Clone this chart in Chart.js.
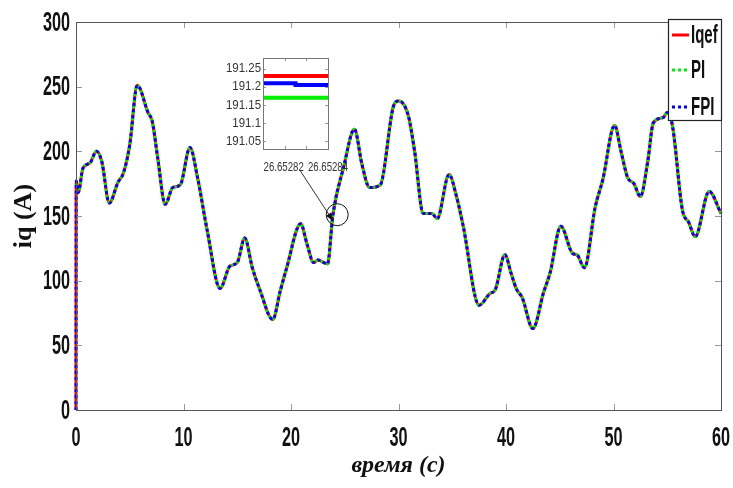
<!DOCTYPE html>
<html>
<head>
<meta charset="utf-8">
<script src="https://cdn.jsdelivr.net/npm/chart.js@4.4.1/dist/chart.umd.min.js"></script>
<style>
  body { margin: 0; background: #fff; }
  #wrap { position: relative; width: 733px; height: 488px; }
  #main { position: absolute; left: 0; top: 0; }
  #inset { position: absolute; left: 200px; top: 45px; }
</style>
</head>
<body>
<div id="wrap">
  <canvas id="main" width="733" height="488"></canvas>
  <canvas id="inset" width="160" height="140"></canvas>
</div>
<script>
// valores
const time = [0, 0.02, 0.2, 0.65, 1.3, 1.9, 2.4, 3.1, 3.9, 4.4, 5.0, 5.7, 6.7, 7.1, 7.6, 8.3, 9.0, 9.7,
  10.6, 11.3, 12.2, 13.4, 14.3, 15.0, 15.7, 16.4, 17.1, 18.3, 19.0, 19.6, 20.9, 21.5, 22.1, 22.5,
  23.4, 23.9, 24.9, 25.9, 26.6, 27.3, 28.3, 29.5, 30.0, 30.9, 31.5, 32.3, 33.1, 33.6, 34.7, 35.4,
  36.0, 37.5, 38.5, 39.0, 39.9, 40.5, 41.0, 41.5, 42.5, 43.5, 44.1, 45.1, 46.2, 46.6, 47.3, 48.3,
  49.0, 50.1, 50.7, 51.3, 51.9, 52.5, 53.2, 53.7, 54.6, 55.0, 55.5, 56.4, 57.0, 57.6, 58.9, 60];
const iqef = [0, 177, 168, 187, 191, 200, 192, 160, 176, 183, 205, 251, 230, 223, 195, 159, 172, 174,
  203, 180, 139, 94, 111, 114, 133, 110, 93, 70, 92, 110, 144, 128, 114, 116,
  113, 151, 188, 217, 190, 172, 174, 234, 239, 228, 200, 152, 152, 148, 182, 165,
  143, 81, 90, 93, 120, 105, 93, 87, 63, 91, 106, 142, 121, 120, 110, 157,
  178, 220, 200, 180, 175, 165, 193, 222, 226, 230, 219, 155, 145, 134, 169, 152];
// PI e FPI seguem a referência (PI sem o degrau inicial)
const piStart = 1;

// zoom
const insetTime = [26.65281, 26.652825, 26.65284];
const insetIqef = [191.23, 191.23, 191.23];
const insetPI = [191.17, 191.17, 191.17];
const insetFPI = [191.21, 191.205, 191.205];
const insetXTicks = [26.65281, 26.65282, 26.65283, 26.65284];
const insetXLabels = ['', '26.65282', '', '26.65284'];
const insetYTicks = [191.05, 191.1, 191.15, 191.2, 191.25];

const xTicks = [0, 10, 20, 30, 40, 50, 60];
const yTicks = [0, 50, 100, 150, 200, 250, 300];

const circleAt = { x: 24.3, y: 151 };
const arrowFrom = { x: 20.86, y: 185 };
const arrowTo = { x: 23.93, y: 146 };

const sans = '"Liberation Sans", Arial, sans-serif';

function pts(ts, vs) {
  return ts.map((t, i) => ({ x: t, y: vs[i] }));
}

// texto condensado (tipo Helvetica Condensed)
function squeezed(c, text, x, y, font, sx, align) {
  c.save();
  c.font = font;
  c.textBaseline = 'middle';
  c.textAlign = align;
  c.translate(x, y);
  c.scale(sx, 1);
  c.fillText(text, 0, 0);
  c.restore();
}

const frame = {
  id: 'frame',
  afterDraw(chart) {
    const c = chart.ctx, a = chart.chartArea;
    const xs = chart.scales.x, ys = chart.scales.y;
    c.save();
    c.strokeStyle = '#999';
    c.lineWidth = 1;
    c.beginPath();
    xs.ticks.forEach(t => {
      const px = Math.round(xs.getPixelForValue(t.value)) + 0.5;
      c.moveTo(px, a.bottom); c.lineTo(px, a.bottom - 6);
      c.moveTo(px, a.top); c.lineTo(px, a.top + 6);
    });
    ys.ticks.forEach(t => {
      const py = Math.round(ys.getPixelForValue(t.value)) + 0.5;
      c.moveTo(a.left, py); c.lineTo(a.left + 6, py);
      c.moveTo(a.right, py); c.lineTo(a.right - 6, py);
    });
    c.stroke();
    c.strokeStyle = '#555';
    c.strokeRect(a.left + 0.5, a.top + 0.5, a.right - a.left, a.bottom - a.top);

    // rótulos dos eixos
    c.fillStyle = '#111';
    const tf = 'bold 28px ' + sans;
    xs.ticks.forEach(t => squeezed(c, String(t.value), xs.getPixelForValue(t.value), a.bottom + 28, tf, 0.58, 'center'));
    ys.ticks.forEach(t => squeezed(c, String(t.value), a.left - 6, ys.getPixelForValue(t.value) + 1, tf, 0.58, 'right'));

    // círculo e seta
    const cx = xs.getPixelForValue(circleAt.x), cy = ys.getPixelForValue(circleAt.y);
    c.strokeStyle = '#111';
    c.beginPath(); c.arc(cx, cy, 11, 0, Math.PI * 2); c.stroke();
    const x1 = xs.getPixelForValue(arrowFrom.x), y1 = ys.getPixelForValue(arrowFrom.y);
    const x2 = xs.getPixelForValue(arrowTo.x), y2 = ys.getPixelForValue(arrowTo.y);
    c.strokeStyle = '#333';
    c.beginPath(); c.moveTo(x1, y1); c.lineTo(x2, y2); c.stroke();
    const ang = Math.atan2(y2 - y1, x2 - x1);
    c.fillStyle = '#111';
    c.beginPath();
    c.moveTo(x2, y2);
    c.lineTo(x2 - 9 * Math.cos(ang - 0.35), y2 - 9 * Math.sin(ang - 0.35));
    c.lineTo(x2 - 9 * Math.cos(ang + 0.35), y2 - 9 * Math.sin(ang + 0.35));
    c.closePath(); c.fill();

    // legenda
    const lx = 668, ly = 19, lw = 53, lh = 101;
    c.fillStyle = '#fff';
    c.fillRect(lx, ly, lw, lh);
    c.strokeStyle = '#222';
    c.lineWidth = 1.2;
    c.strokeRect(lx + 0.5, ly + 0.5, lw, lh);
    const items = [['Iqef', '#ff0000', []], ['PI', '#00ee00', [3, 3]], ['FPI', '#0000ff', [3, 3]]];
    const rows = [35, 70, 107];
    items.forEach((it, i) => {
      c.strokeStyle = it[1];
      c.lineWidth = 3;
      c.setLineDash(it[2]);
      c.beginPath(); c.moveTo(672, rows[i]); c.lineTo(689, rows[i]); c.stroke();
      c.setLineDash([]);
      c.fillStyle = '#111';
      squeezed(c, it[0], 691, rows[i] + 1, 'bold 25px ' + sans, 0.6, 'left');
    });
    c.restore();
  }
};

new Chart(document.getElementById('main'), {
  type: 'line',
  data: {
    datasets: [
      { label: 'Iqef', data: pts(time, iqef), borderColor: '#ff0000', borderWidth: 3, order: 3, clip: 4 },
      { label: 'PI', data: pts(time.slice(piStart), iqef.slice(piStart)), borderColor: '#00ee00', borderWidth: 3, borderDash: [3, 3], borderDashOffset: 3, order: 2, clip: 4 },
      { label: 'FPI', data: pts(time, iqef), borderColor: '#0000ff', borderWidth: 3, borderDash: [3, 3], order: 1, clip: 4 }
    ]
  },
  options: {
    responsive: false,
    animation: false,
    devicePixelRatio: 1,
    layout: { padding: { top: 22, right: 12, left: 0, bottom: 0 } },
    elements: {
      point: { radius: 0 },
      line: { cubicInterpolationMode: 'monotone', fill: false }
    },
    plugins: { legend: { display: false }, tooltip: { enabled: false } },
    scales: {
      x: {
        type: 'linear', min: 0, max: 60,
        afterBuildTicks: s => { s.ticks = xTicks.map(v => ({ value: v })); },
        afterFit: s => { s.height = 78; s.paddingLeft = 0; s.paddingRight = 0; },
        grid: { display: false, drawTicks: false },
        border: { display: false },
        ticks: { display: false },
        title: { display: true, text: 'время (c)', color: '#111', padding: { top: 0, bottom: 8 },
          font: { family: '"Liberation Serif", "DejaVu Serif", serif', size: 24, weight: 'bold', style: 'italic' } }
      },
      y: {
        min: 0, max: 300,
        afterBuildTicks: s => { s.ticks = yTicks.map(v => ({ value: v })); },
        afterFit: s => { s.width = 76; s.paddingTop = 0; s.paddingBottom = 0; },
        grid: { display: false, drawTicks: false },
        border: { display: false },
        ticks: { display: false },
        title: { display: true, text: 'iq (A)', color: '#111', padding: { top: 9, bottom: 0 },
          font: { family: '"Liberation Serif", "DejaVu Serif", serif', size: 26, weight: 'bold' } }
      }
    }
  },
  plugins: [frame]
});

const insetFrame = {
  id: 'insetFrame',
  afterDraw(chart) {
    const c = chart.ctx, a = chart.chartArea;
    const xs = chart.scales.x, ys = chart.scales.y;
    c.save();
    c.strokeStyle = '#999';
    c.lineWidth = 1;
    c.beginPath();
    xs.ticks.forEach(t => {
      const px = Math.round(xs.getPixelForValue(t.value)) + 0.5;
      c.moveTo(px, a.bottom); c.lineTo(px, a.bottom - 3);
      c.moveTo(px, a.top); c.lineTo(px, a.top + 3);
    });
    ys.ticks.forEach(t => {
      const py = Math.round(ys.getPixelForValue(t.value)) + 0.5;
      c.moveTo(a.left, py); c.lineTo(a.left + 3, py);
      c.moveTo(a.right, py); c.lineTo(a.right - 3, py);
    });
    c.stroke();
    c.strokeStyle = '#777';
    c.strokeRect(a.left + 0.5, a.top + 0.5, a.right - a.left, a.bottom - a.top);
    c.fillStyle = '#333';
    const lf = '13px ' + sans;
    xs.ticks.forEach((t, i) => squeezed(c, insetXLabels[i], xs.getPixelForValue(t.value) - (i === 1 ? 1 : 0), a.bottom + 18, lf, 0.74, 'center'));
    ys.ticks.forEach(t => squeezed(c, String(Number(t.value.toFixed(2))), a.left - 2, ys.getPixelForValue(t.value), lf, 0.88, 'right'));
    c.restore();
  }
};

new Chart(document.getElementById('inset'), {
  type: 'line',
  data: {
    datasets: [
      { data: pts(insetTime, insetIqef), borderColor: '#ff0000', borderWidth: 4, stepped: true },
      { data: pts(insetTime, insetFPI), borderColor: '#0000ff', borderWidth: 4, stepped: true },
      { data: pts(insetTime, insetPI), borderColor: '#00ee00', borderWidth: 4, stepped: true }
    ]
  },
  options: {
    responsive: false,
    animation: false,
    devicePixelRatio: 1,
    layout: { padding: { top: 13, right: 32, left: 0, bottom: 0 } },
    elements: { point: { radius: 0 } },
    plugins: { legend: { display: false }, tooltip: { enabled: false } },
    scales: {
      x: {
        type: 'linear', min: 26.65281, max: 26.65284,
        afterBuildTicks: s => { s.ticks = insetXTicks.map(v => ({ value: v })); },
        afterFit: s => { s.height = 36; s.paddingLeft = 0; s.paddingRight = 0; },
        grid: { display: false, drawTicks: false },
        border: { display: false },
        ticks: { display: false }
      },
      y: {
        min: 191.028, max: 191.28,
        afterBuildTicks: s => { s.ticks = insetYTicks.map(v => ({ value: v })); },
        afterFit: s => { s.width = 63; s.paddingTop = 0; s.paddingBottom = 0; },
        grid: { display: false, drawTicks: false },
        border: { display: false },
        ticks: { display: false }
      }
    }
  },
  plugins: [insetFrame]
});
</script>
</body>
</html>
